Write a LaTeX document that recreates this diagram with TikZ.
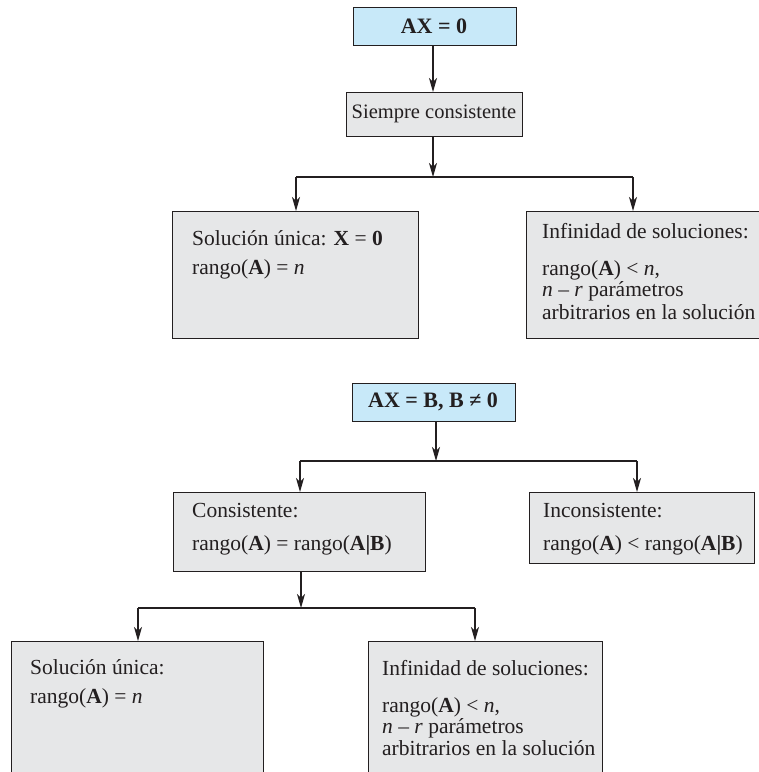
\documentclass[tikz,border=0pt]{standalone}
\usepackage{fontspec}
\setmainfont{Liberation Serif}
\usetikzlibrary{arrows.meta}
\definecolor{bluefill}{HTML}{C8E9F9}
\definecolor{grayfill}{HTML}{E6E7E8}
\definecolor{ink}{HTML}{231F20}
\begin{document}
\begin{tikzpicture}[x=1pt,y=-1pt,
  box/.style={draw=ink,line width=1.4pt,anchor=north west,inner sep=0pt},
  bluebox/.style={box,fill=bluefill},
  graybox/.style={box,fill=grayfill},
  txt/.style={anchor=west,inner sep=0pt,text=ink,font=\fontsize{21.5}{24}\selectfont},
  ctxt/.style={inner sep=0pt,text=ink,font=\fontsize{22}{24}\selectfont\bfseries},
  conn/.style={draw=ink,line width=1.3pt},
  arr/.style={conn,-{Stealth[length=14pt,width=8pt,inset=4pt]}}]
\useasboundingbox (0,0) rectangle (759,772);
% boxes
\node[bluebox,minimum width=163pt,minimum height=38pt] (b1) at (353,7) {};
\node[graybox,minimum width=176pt,minimum height=44pt] (b2) at (346,92) {};
\node[graybox,minimum width=246pt,minimum height=127pt] (b3) at (172,211) {};
\node[graybox,minimum width=250pt,minimum height=127pt] (b4) at (526,211) {};
\node[bluebox,minimum width=163pt,minimum height=38pt] (b5) at (352,383) {};
\node[graybox,minimum width=252pt,minimum height=79pt] (b6) at (173,492) {};
\node[graybox,minimum width=225pt,minimum height=71pt] (b7) at (529,492) {};
\node[graybox,minimum width=252pt,minimum height=150pt] (b8) at (11,641) {};
\node[graybox,minimum width=234pt,minimum height=150pt] (b9) at (368,641) {};
% texts
\node[ctxt] (t1) at (434,26) {AX = 0};
\node[txt,anchor=center,font=\fontsize{20.5}{24}\selectfont] (t2) at (434,114) {Siempre consistente};
\node[txt] (t3a) at (192,238) {Solución única: \textbf{X} = \textbf{0}};
\node[txt] (t3b) at (192,269) {rango(\textbf{A}) = \textit{n}};
\node[txt] (t4a) at (542,231) {Infinidad de soluciones:};
\node[txt] (t4b) at (542,270) {rango(\textbf{A}) < \textit{n},};
\node[txt] (t4c) at (542,291) {\textit{n} – \textit{r} parámetros};
\node[txt] (t4d) at (542,312) {arbitrarios en la solución};
\node[ctxt] (t5) at (433,402) {AX = B, B ≠ 0};
\node[txt] (t6a) at (192,511) {Consistente:};
\node[txt] (t6b) at (192,545) {rango(\textbf{A}) = rango(\textbf{A|B})};
\node[txt] (t7a) at (543,511) {Inconsistente:};
\node[txt] (t7b) at (543,545) {rango(\textbf{A}) < rango(\textbf{A|B})};
\node[txt] (t8a) at (30,667) {Solución única:};
\node[txt] (t8b) at (30,698) {rango(\textbf{A}) = \textit{n}};
\node[txt] (t9a) at (382,668) {Infinidad de soluciones:};
\node[txt] (t9b) at (382,707) {rango(\textbf{A}) < \textit{n},};
\node[txt] (t9c) at (382,728) {\textit{n} – \textit{r} parámetros};
\node[txt] (t9d) at (382,748) {arbitrarios en la solución};
% junction coordinates
\coordinate (j1) at (433,177);
\coordinate (j1l) at (296,177);
\coordinate (j1r) at (633,177);
\coordinate (j2) at (436,461);
\coordinate (j2l) at (300,461);
\coordinate (j2r) at (637,461);
\coordinate (j3) at (301,608);
\coordinate (j3l) at (138,608);
\coordinate (j3r) at (475,608);
% connectors
\draw[arr] (b1.south -| j1) -- (b2.north -| j1);
\draw[arr] (b2.south -| j1) -- (j1);
\draw[conn] (j1l) -- (j1r);
\draw[arr] (j1l) -- (b3.north -| j1l);
\draw[arr] (j1r) -- (b4.north -| j1r);
\draw[arr] (b5.south -| j2) -- (j2);
\draw[conn] (j2l) -- (j2r);
\draw[arr] (j2l) -- (b6.north -| j2l);
\draw[arr] (j2r) -- (b7.north -| j2r);
\draw[arr] (b6.south -| j3) -- (j3);
\draw[conn] (j3l) -- (j3r);
\draw[arr] (j3l) -- (b8.north -| j3l);
\draw[arr] (j3r) -- (b9.north -| j3r);
\end{tikzpicture}
\end{document}
